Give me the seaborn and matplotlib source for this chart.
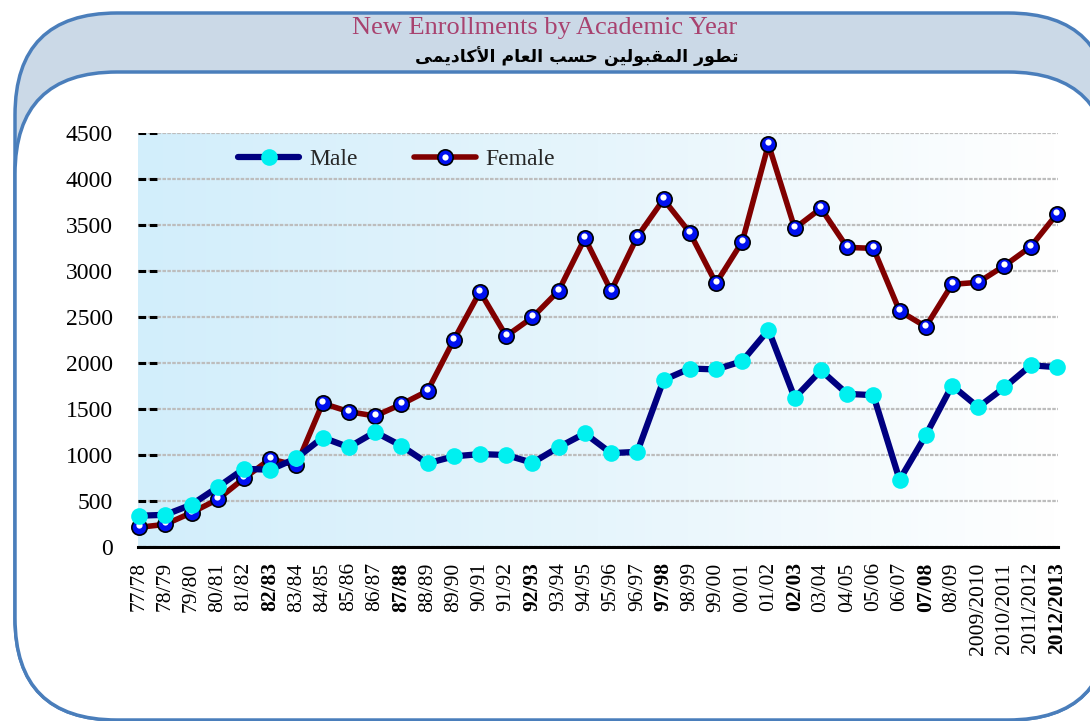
import matplotlib
matplotlib.use('Agg')
import numpy as np
import pandas as pd
import seaborn as sns
import matplotlib.pyplot as plt
from matplotlib.patches import FancyBboxPatch
from matplotlib.colors import LinearSegmentedColormap
from matplotlib.transforms import offset_copy
from matplotlib.legend_handler import HandlerTuple

# Academic years and new enrollments
years = ['77/78', '78/79', '79/80', '80/81', '81/82', '82/83', '83/84', '84/85',
         '85/86', '86/87', '87/88', '88/89', '89/90', '90/91', '91/92', '92/93',
         '93/94', '94/95', '95/96', '96/97', '97/98', '98/99', '99/00', '00/01',
         '01/02', '02/03', '03/04', '04/05', '05/06', '06/07', '07/08', '08/09',
         '2009/2010', '2010/2011', '2011/2012', '2012/2013']
male = [340, 350, 460, 650, 850, 840, 965, 1190, 1085, 1250, 1100, 910,
        985, 1010, 1000, 915, 1085, 1235, 1020, 1035, 1815, 1940, 1930, 2020,
        2360, 1620, 1920, 1665, 1650, 730, 1215, 1755, 1520, 1735, 1975, 1955]
female = [214, 246, 373, 518, 746, 957, 888, 1562, 1471, 1424, 1551, 1696,
          2250, 2775, 2293, 2496, 2786, 3357, 2783, 3373, 3779, 3417, 2866, 3319,
          4377, 3464, 3681, 3257, 3246, 2565, 2395, 2855, 2877, 3058, 3264, 3620]
bold_years = {'82/83', '87/88', '92/93', '97/98', '02/03', '07/08', '2012/2013'}
yticks = list(range(0, 4501, 500))

title_en = 'New Enrollments by Academic Year'
title_ar = 'تطور المقبولين حسب العام الأكاديمى'


def shape_arabic(text):
    # matplotlib has no Arabic shaping, so pick presentation forms by hand
    base = {'ت': 0xFE95, 'ط': 0xFEC1, 'ل': 0xFEDD, 'م': 0xFEE1, 'ق': 0xFED5,
            'ب': 0xFE8F, 'ي': 0xFEF1, 'ن': 0xFEE5, 'ح': 0xFEA1, 'س': 0xFEB1,
            'ع': 0xFEC9, 'ك': 0xFED9, 'ا': 0xFE8D, 'د': 0xFEA9, 'ر': 0xFEAD,
            'و': 0xFEED, 'ى': 0xFEEF, '\uFEF7': 0xFEF7}
    dual = set('تطلمقبينحسعك')
    text = text.replace('لأ', '\uFEF7')
    out = []
    for i, c in enumerate(text):
        if c not in base:
            out.append(c)
            continue
        prev = text[i - 1] if i > 0 else ' '
        nxt = text[i + 1] if i + 1 < len(text) else ' '
        jp = prev in dual
        jn = c in dual and nxt in base
        form = 3 if (jp and jn) else 1 if jp else 2 if jn else 0
        out.append(chr(base[c] + form))
    return ''.join(out)[::-1]


df = pd.DataFrame({'pos': np.arange(len(years)), 'Male': male, 'Female': female})

sns.set_theme(style='white')
plt.rcParams['font.family'] = ['Liberation Serif', 'DejaVu Sans']

fig = plt.figure(figsize=(10.9, 7.21), dpi=100)

# rounded frame behind the chart
bg = fig.add_axes([0, 0, 1, 1], zorder=-1)
bg.set_xlim(0, 1090)
bg.set_ylim(721, 0)
bg.axis('off')
bg.add_patch(FancyBboxPatch((15, 13), 1095, 707, boxstyle='round,pad=0,rounding_size=102',
                            fc='#CBD9E7', ec='#4A7EBB', lw=2.5))
bg.add_patch(FancyBboxPatch((15, 72), 1095, 648, boxstyle='round,pad=0,rounding_size=102',
                            fc='white', ec='#4A7EBB', lw=2.5))
bg.text(545, 28, title_en, ha='center', va='center', fontsize=19,
        color='#A8426F', family=['Liberation Serif'])
bg.text(577, 57, shape_arabic(title_ar), ha='center', va='center', fontsize=12.5,
        fontweight='bold', color='black', family=['DejaVu Sans'])

ax = fig.add_axes([138 / 1090, (721 - 547) / 721, 920 / 1090, 414 / 721])
ax.set_facecolor('none')

# light blue to white gradient in the plot area
grad = np.linspace(0, 1, 256).reshape(1, -1)
cmap = LinearSegmentedColormap.from_list('bg', ['#D2EEFB', '#E6F5FC', '#FFFFFF'])
xlim = (-0.04, len(years) - 1 + 0.04)
ax.imshow(grad, cmap=cmap, extent=[xlim[0], xlim[1], 0, 4500], aspect='auto', zorder=0)

sns.lineplot(data=df, x='pos', y='Female', ax=ax, color='#800000', linewidth=4,
             marker='o', markersize=11, markerfacecolor='#0010F0',
             markeredgecolor='black', markeredgewidth=1.2, zorder=3, clip_on=False,
             label='Female')
fem_line = ax.lines[-1]
hl = ax.plot(df['pos'], df['Female'], linestyle='', marker='o', markersize=4.5,
             color='white', markeredgewidth=0, zorder=4, clip_on=False,
             transform=offset_copy(ax.transData, fig=fig, x=-0.5, y=2, units='dots'))[0]
sns.lineplot(data=df, x='pos', y='Male', ax=ax, color='#000080', linewidth=4.5,
             marker='o', markersize=12, markerfacecolor='#00F0F0',
             markeredgecolor='#00F0F0', markeredgewidth=0, zorder=5, clip_on=False,
             label='Male')
male_line = ax.lines[-1]

ax.set_xlim(*xlim)
ax.set_ylim(0, 4500)
ax.set_yticks(yticks)
ax.set_xticks(df['pos'])
ax.set_xticklabels(years, rotation=90, va='top')
for t in ax.get_xticklabels():
    if t.get_text() in bold_years:
        t.set_fontweight('bold')
ax.tick_params(axis='x', length=0, pad=11, labelsize=15.5, colors='black')
ax.tick_params(axis='y', length=0, pad=18, labelsize=17, colors='black')
ax.set_xlabel('')
ax.set_ylabel('')

ax.yaxis.grid(True, color='#BDBDBD', linestyle=(0, (1.6, 0.6)), linewidth=1.6, zorder=1)
ax.xaxis.grid(False)
ax.hlines(yticks, 0, 0.022, transform=ax.get_yaxis_transform(), colors='black',
          linestyles=(0, (2.5, 1.2)), linewidth=2.2, zorder=2)
for s in ['top', 'right', 'left']:
    ax.spines[s].set_visible(False)
ax.spines['bottom'].set_color('black')
ax.spines['bottom'].set_linewidth(2.2)
ax.spines['bottom'].set_zorder(6)

ax.legend(handles=[male_line, (fem_line, hl)], labels=['Male', 'Female'],
          handler_map={tuple: HandlerTuple(ndivide=1, pad=0)},
          loc='center left', bbox_to_anchor=(0.1087, 0.937), ncol=2, frameon=False,
          fontsize=17, handlelength=2.6, handletextpad=0.42, columnspacing=2.4,
          borderpad=0, borderaxespad=0)

fig.savefig('out.png', dpi=100)
